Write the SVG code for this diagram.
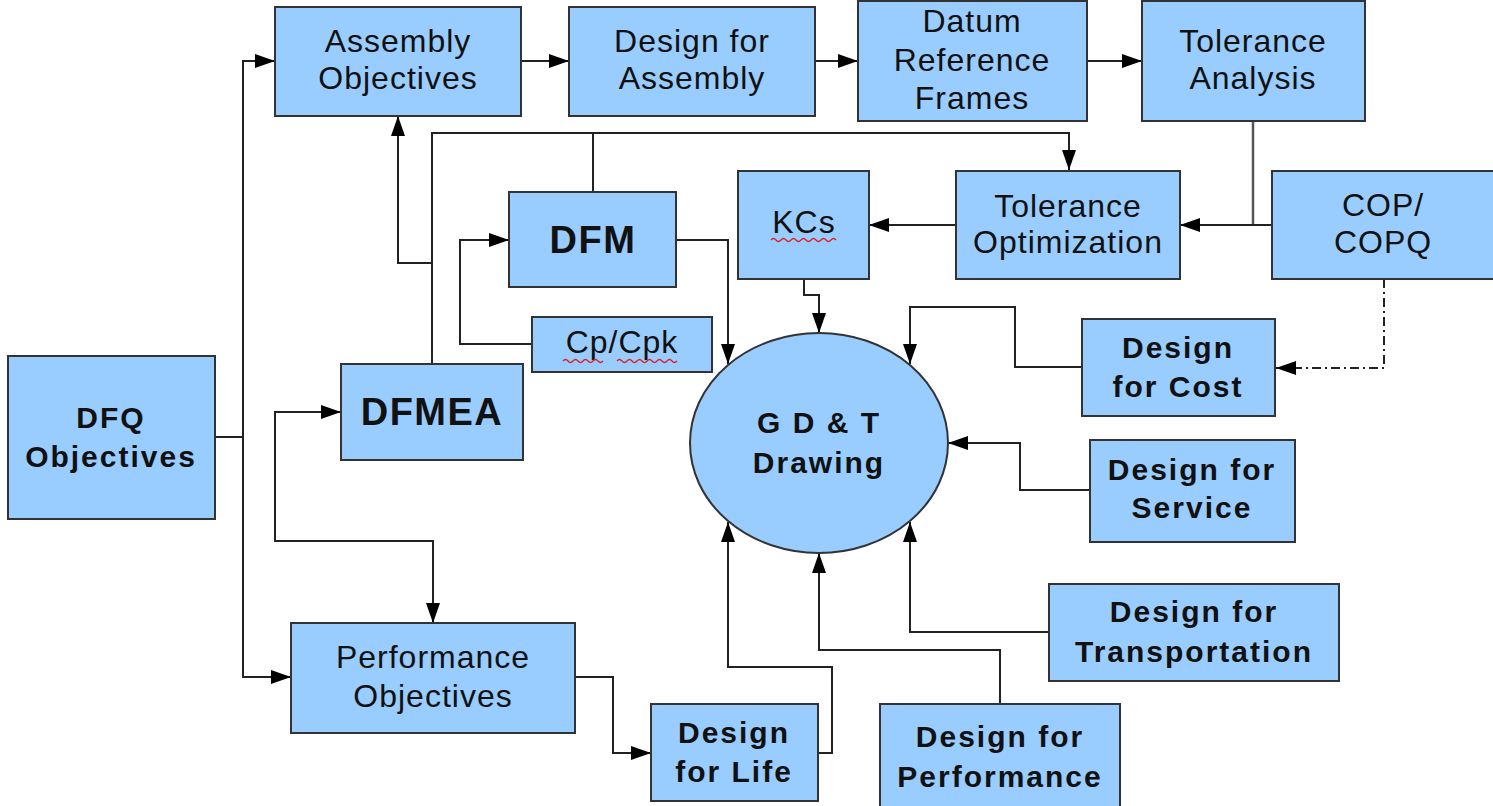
<svg xmlns="http://www.w3.org/2000/svg" width="1493" height="806" viewBox="0 0 1493 806">
<style>
.box{fill:#99ccff;stroke:#333;stroke-width:2}
.t{font-family:"Liberation Sans",Arial,sans-serif;font-size:32px;letter-spacing:1px;fill:#111;text-anchor:middle}
.b{font-weight:bold;font-size:30px;letter-spacing:2px}
.big{font-size:38px;letter-spacing:1.5px}
.c{fill:none;stroke:#222;stroke-width:2}
.g{stroke:#555;stroke-width:2.5}
.dd{stroke-dasharray:9 4 2 4}
.sp{fill:none;stroke:#e02020;stroke-width:1.3}
</style>
<defs>
<marker id="ah" viewBox="0 0 20 14" refX="20" refY="7" markerWidth="20" markerHeight="14" orient="auto-start-reverse" markerUnits="userSpaceOnUse">
<path d="M0,0 L20,7 L0,14 z" fill="#000"/>
</marker>
</defs>
<rect width="1493" height="806" fill="#fff"/>
<g id="connectors">
<path class="c" d="M215,437 H243"/>
<path class="c" d="M243,437 V61 H275" marker-end="url(#ah)"/>
<path class="c" d="M243,437 V677 H291" marker-end="url(#ah)"/>
<path class="c" d="M521,61 H569" marker-end="url(#ah)"/>
<path class="c" d="M815,61 H858" marker-end="url(#ah)"/>
<path class="c" d="M1087,61 H1142" marker-end="url(#ah)"/>
<path class="c g" d="M1253,121 V225"/>
<path class="c" d="M1272,225 H1180" marker-end="url(#ah)"/>
<path class="c" d="M956,225 H869" marker-end="url(#ah)"/>
<path class="c" d="M804,279 V295 H819 V333" marker-end="url(#ah)"/>
<path class="c" d="M432,364 V133 H1069 V170" marker-end="url(#ah)"/>
<path class="c" d="M432,263 H398 V116" marker-end="url(#ah)"/>
<path class="c" d="M593,192 V133"/>
<path class="c" d="M532,344 H460 V240 H509" marker-end="url(#ah)"/>
<path class="c" d="M676,240 H728 V364" marker-end="url(#ah)"/>
<path class="c" d="M1082,367 H1015 V307 H910 V364" marker-end="url(#ah)"/>
<path class="c dd" d="M1384,279 V368 H1276" marker-end="url(#ah)"/>
<path class="c" d="M1090,490 H1020 V443 H948" marker-end="url(#ah)"/>
<path class="c" d="M1049,632 H910 V522" marker-end="url(#ah)"/>
<path class="c" d="M1000,704 V650 H819 V553" marker-end="url(#ah)"/>
<path class="c" d="M818,753 H832 V667 H728 V522" marker-end="url(#ah)"/>
<path class="c" d="M575,677 H613 V753 H651" marker-end="url(#ah)"/>
<path class="c" d="M341,412 H275 V541 H433 V623" marker-start="url(#ah)" marker-end="url(#ah)"/>
</g>
<g id="assembly-objectives">
<rect class="box" x="275" y="7" width="246" height="109"/>
<text class="t" x="398" y="52">Assembly</text>
<text class="t" x="398" y="89">Objectives</text>
</g>
<g id="design-for-assembly">
<rect class="box" x="569" y="7" width="246" height="109"/>
<text class="t" x="692" y="52">Design for</text>
<text class="t" x="692" y="89">Assembly</text>
</g>
<g id="datum-reference-frames">
<rect class="box" x="858" y="1" width="229" height="120"/>
<text class="t" x="972" y="32">Datum</text>
<text class="t" x="972" y="71">Reference</text>
<text class="t" x="972" y="109">Frames</text>
</g>
<g id="tolerance-analysis">
<rect class="box" x="1142" y="1" width="223" height="120"/>
<text class="t" x="1253" y="52">Tolerance</text>
<text class="t" x="1253" y="89">Analysis</text>
</g>
<g id="dfm">
<rect class="box" x="509" y="192" width="167" height="95"/>
<text class="t b big" x="593" y="253">DFM</text>
</g>
<g id="kcs">
<rect class="box" x="738" y="171" width="131" height="108"/>
<text class="t" x="804" y="233">KCs</text>
<path class="sp" d="M771,240 q2.5,-3 5,0 t5,0 t5,0 t5,0 t5,0 t5,0 t5,0 t5,0 t5,0 t5,0 t5,0 t5,0 t5,0"/>
</g>
<g id="tolerance-optimization">
<rect class="box" x="956" y="171" width="224" height="108"/>
<text class="t" x="1068" y="217">Tolerance</text>
<text class="t" x="1068" y="253">Optimization</text>
</g>
<g id="cop-copq">
<rect class="box" x="1272" y="171" width="222" height="108"/>
<text class="t" x="1383" y="216">COP/</text>
<text class="t" x="1383" y="253">COPQ</text>
</g>
<g id="cp-cpk">
<rect class="box" x="532" y="317" width="180" height="55"/>
<text class="t" x="622" y="353">Cp/Cpk</text>
<path class="sp" d="M563,361 q2.5,-3 5,0 t5,0 t5,0 t5,0 t5,0 t5,0 t5,0 t5,0"/>
<path class="sp" d="M617,361 q2.5,-3 5,0 t5,0 t5,0 t5,0 t5,0 t5,0 t5,0 t5,0 t5,0 t5,0 t5,0 t5,0"/>
</g>
<g id="dfmea">
<rect class="box" x="341" y="364" width="182" height="96"/>
<text class="t b big" x="432" y="425">DFMEA</text>
</g>
<g id="dfq-objectives">
<rect class="box" x="8" y="356" width="207" height="163"/>
<text class="t b" x="111" y="428">DFQ</text>
<text class="t b" x="111" y="467">Objectives</text>
</g>
<g id="gdt-drawing">
<ellipse class="box" cx="819" cy="443" rx="129" ry="110"/>
<text class="t b" x="819" y="433">G D &amp; T</text>
<text class="t b" x="819" y="473">Drawing</text>
</g>
<g id="design-for-cost">
<rect class="box" x="1082" y="319" width="193" height="97"/>
<text class="t b" x="1178" y="358">Design</text>
<text class="t b" x="1178" y="397">for Cost</text>
</g>
<g id="design-for-service">
<rect class="box" x="1090" y="440" width="205" height="102"/>
<text class="t b" x="1192" y="480">Design for</text>
<text class="t b" x="1192" y="518">Service</text>
</g>
<g id="design-for-transportation">
<rect class="box" x="1049" y="584" width="290" height="97"/>
<text class="t b" x="1194" y="622">Design for</text>
<text class="t b" x="1194" y="662">Transportation</text>
</g>
<g id="design-for-performance">
<rect class="box" x="880" y="704" width="240" height="110"/>
<text class="t b" x="1000" y="747">Design for</text>
<text class="t b" x="1000" y="787">Performance</text>
</g>
<g id="performance-objectives">
<rect class="box" x="291" y="623" width="284" height="110"/>
<text class="t" x="433" y="668">Performance</text>
<text class="t" x="433" y="707">Objectives</text>
</g>
<g id="design-for-life">
<rect class="box" x="651" y="704" width="167" height="97"/>
<text class="t b" x="734" y="743">Design</text>
<text class="t b" x="734" y="782">for Life</text>
</g>
</svg>
